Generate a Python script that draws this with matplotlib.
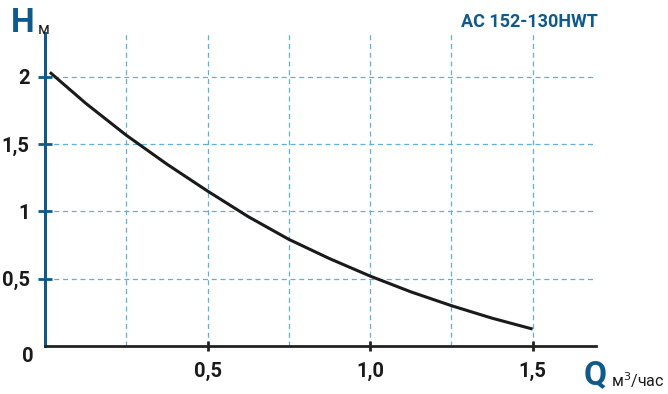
import numpy as np
import matplotlib.pyplot as plt

# Кривая напор-расход
Q = [0.015, 0.125, 0.25, 0.375, 0.5, 0.625, 0.75, 0.875, 1.0, 1.125, 1.25, 1.375, 1.5]
H = [2.035, 1.805, 1.567, 1.352, 1.152, 0.962, 0.793, 0.650, 0.52, 0.403, 0.30, 0.207, 0.126]

x_grid = [0.25, 0.5, 0.75, 1.0, 1.25, 1.5]
y_grid = [0.5, 1.0, 1.5, 2.0]
x_ticks = [0.5, 1.0, 1.5]
x_labels = ["0,5", "1,0", "1,5"]
y_ticks = [0.5, 1.0, 1.5, 2.0]
y_labels = ["0,5", "1", "1,5", "2"]

blue = "#0f5a8a"
grid_blue = "#5fb0dc"
font = ["Roboto", "DejaVu Sans"]

fig = plt.figure(figsize=(6.68, 3.94), dpi=100)
W, Hpx = 668, 394
ax = fig.add_axes([45 / W, (Hpx - 346) / Hpx, (596 - 45) / W, (346 - 33) / Hpx])
ax.set_xlim(0, 1.695)
ax.set_ylim(0, 2.327)

for v in x_grid:
    ax.axvline(v, color=grid_blue, lw=0.9, ls=(0, (4, 3)), zorder=1)
for v in y_grid:
    ax.axhline(v, color=grid_blue, lw=0.9, ls=(0, (4, 3)), zorder=1)

ax.plot(Q, H, color="#1a1a1a", lw=2.2, zorder=3, solid_capstyle="butt",
        solid_joinstyle="round")

for s in ["top", "right"]:
    ax.spines[s].set_visible(False)
ax.spines["left"].set_color(blue)
ax.spines["left"].set_linewidth(2.2)
ax.spines["bottom"].set_color("#222222")
ax.spines["bottom"].set_linewidth(2.0)

ax.set_xticks(x_ticks)
ax.set_xticklabels(x_labels)
ax.set_yticks(y_ticks)
ax.set_yticklabels(y_labels)
ax.tick_params(axis="x", direction="inout", length=7, width=2, color="#222222", pad=8)
ax.tick_params(axis="y", direction="inout", length=10, width=2, color=blue, pad=6)
for lab in ax.get_xticklabels() + ax.get_yticklabels():
    lab.set_fontfamily(font)
    lab.set_fontweight("bold")
    lab.set_fontsize(14.5)
    lab.set_color("#1a1a1a")

# ноль у начала координат
fig.text(28 / W, 1 - 356 / Hpx, "0", fontsize=14.5, fontweight="bold", family=font,
         color="#1a1a1a", ha="center", va="center")

# подписи осей
fig.text(11 / W, 1 - 23 / Hpx, "H", fontsize=24, fontweight="bold", family=font,
         color=blue, ha="left", va="center")
fig.text(38 / W, 1 - 29 / Hpx, "м", fontsize=11.5, family=font,
         color="#1a1a1a", ha="left", va="center")
fig.text(584 / W, 1 - 375 / Hpx, "Q", fontsize=24, fontweight="bold", family=font,
         color=blue, ha="left", va="center")
fig.text(611 / W, 1 - 380 / Hpx, "м$^3$/час", fontsize=11.5, family=font,
         color="#1a1a1a", ha="left", va="center")

fig.text(598 / W, 1 - 22 / Hpx, "AC 152-130HWT", fontsize=13, fontweight="bold", family=font,
         color=blue, ha="right", va="center")

fig.savefig("out.png", dpi=100)
